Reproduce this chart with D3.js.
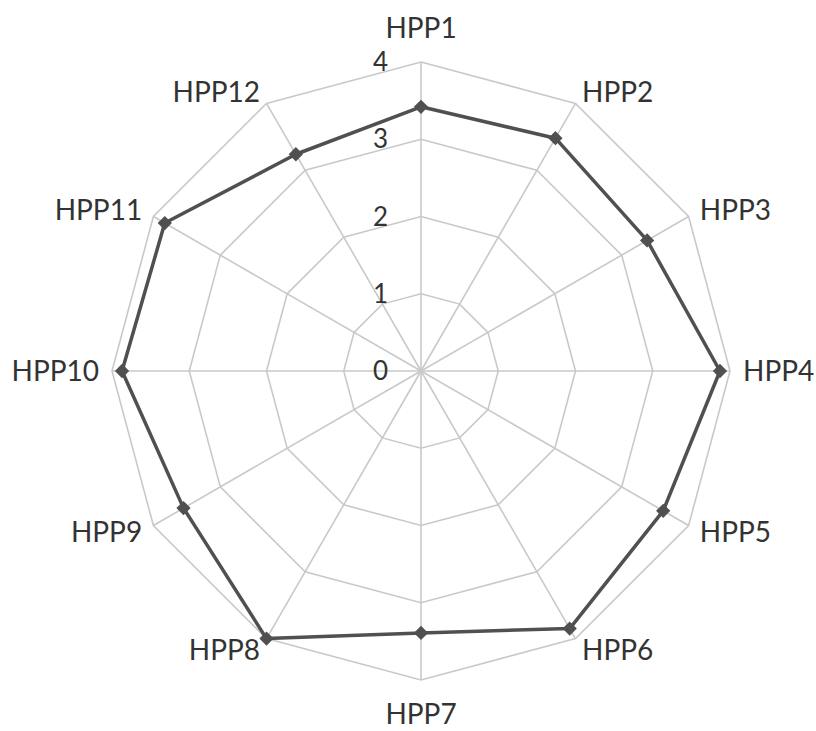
<!DOCTYPE html>
<html>
<head>
<meta charset="utf-8">
<script src="https://cdn.jsdelivr.net/npm/d3@7"></script>
<style>
  body { margin: 0; background: #fff; }
  text { font-family: Lato, "Open Sans", sans-serif; fill: #333; }
</style>
</head>
<body>
<div id="chart"></div>
<script>
// data
const categories = ["HPP1", "HPP2", "HPP3", "HPP4", "HPP5", "HPP6",
                    "HPP7", "HPP8", "HPP9", "HPP10", "HPP11", "HPP12"];
const values = [3.42, 3.48, 3.38, 3.87, 3.62, 3.85, 3.39, 4.0, 3.55, 3.87, 3.83, 3.24];
const ticks = [0, 1, 2, 3, 4];

const width = 816, height = 731;
const cx = 421, cy = 371, R = 309;

const svg = d3.select("#chart").append("svg")
    .attr("width", width)
    .attr("height", height);

const g = svg.append("g").attr("transform", `translate(${cx},${cy})`);

// radial scale + angle for each category
const r = d3.scaleLinear().domain([0, 4]).range([0, R]);
const angle = d3.scalePoint().domain(categories).range([0, 2 * Math.PI * 11 / 12]);

function pt(cat, v) {
    let a = angle(cat);
    return [Math.sin(a) * r(v), -Math.cos(a) * r(v)];
}

// grid rings
g.selectAll(".ring")
    .data(ticks.filter(d => d > 0))
    .enter().append("polygon")
    .attr("points", d => categories.map(c => pt(c, d).join(",")).join(" "))
    .attr("fill", "none")
    .attr("stroke", "#c9c9c9")
    .attr("stroke-width", 1.6);

// spokes
g.selectAll(".spoke")
    .data(categories)
    .enter().append("line")
    .attr("x1", 0).attr("y1", 0)
    .attr("x2", d => pt(d, 4)[0])
    .attr("y2", d => pt(d, 4)[1])
    .attr("stroke", "#c9c9c9")
    .attr("stroke-width", 1.6);

// tick labels
g.selectAll(".tick")
    .data(ticks)
    .enter().append("text")
    .attr("x", -33)
    .attr("y", d => -r(d))
    .attr("dy", "0.35em")
    .attr("text-anchor", "end")
    .style("font-size", "26px")
    .text(d => d);

// data line
const line = d3.line()
    .x((d, i) => pt(categories[i], d)[0])
    .y((d, i) => pt(categories[i], d)[1])
    .curve(d3.curveLinearClosed);

g.append("path")
    .datum(values)
    .attr("d", line)
    .attr("fill", "none")
    .attr("stroke", "#505050")
    .attr("stroke-width", 3.5)
    .attr("stroke-linejoin", "round");

// diamond markers
g.selectAll(".marker")
    .data(values)
    .enter().append("path")
    .attr("d", d3.symbol().type(d3.symbolDiamond2).size(130))
    .attr("transform", (d, i) => `translate(${pt(categories[i], d)})`)
    .attr("fill", "#505050");

// category labels
g.selectAll(".label")
    .data(categories)
    .enter().append("text")
    .attr("x", d => pt(d, 4)[0] * 322 / R)
    .attr("y", d => pt(d, 4)[1] * 322 / R)
    .attr("dy", d => {
        let a = angle(d);
        if (Math.abs(a) < 0.01) return "-0.38em";
        if (Math.abs(a - Math.PI) < 0.01) return "1.12em";
        return "0.35em";
    })
    .attr("text-anchor", d => {
        let x = Math.sin(angle(d));
        if (Math.abs(x) < 0.01) return "middle";
        return x > 0 ? "start" : "end";
    })
    .style("font-size", "28px")
    .text(d => d);
</script>
</body>
</html>
